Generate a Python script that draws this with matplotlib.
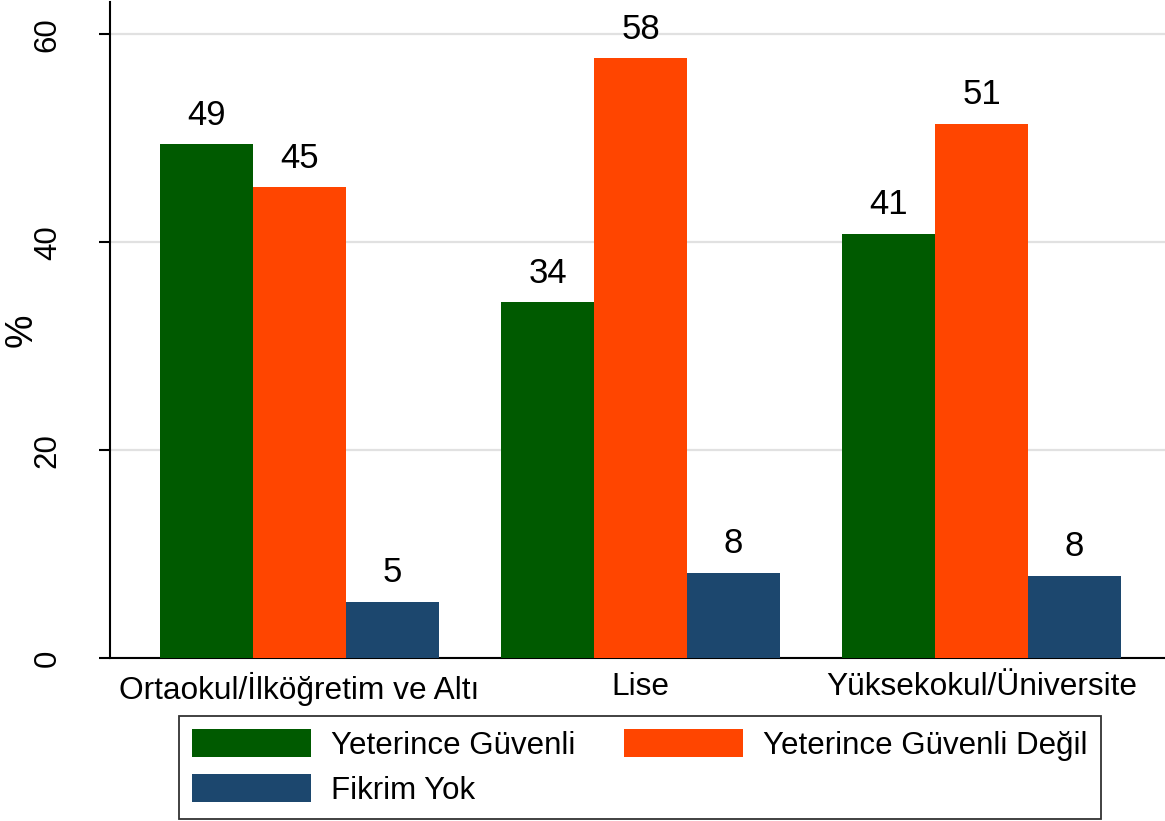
import numpy as np
import matplotlib
matplotlib.use("Agg")
import matplotlib.pyplot as plt

plt.rcParams['font.family'] = ['Liberation Sans', 'DejaVu Sans']

# eğitim düzeyi kategorileri
categories = ["Ortaokul/İlköğretim ve Altı", "Lise", "Yüksekokul/Üniversite"]
series_names = ["Yeterince Güvenli", "Yeterince Güvenli Değil", "Fikrim Yok"]
guvenli = [49.4, 34.2, 40.8]
guvenli_degil = [45.3, 57.7, 51.4]
fikrim_yok = [5.4, 8.2, 7.9]
yticks = [0, 20, 40, 60]

colors = ["#005A00", "#FF4500", "#1C476E"]

fig = plt.figure(figsize=(11.65, 8.21), dpi=100)
ax = fig.add_axes([110 / 1165, 163 / 821, 1 - 110 / 1165, 656 / 821])

x = np.arange(len(categories))
width = 93 / 341
handles = []
for i, (vals, name, col) in enumerate(zip([guvenli, guvenli_degil, fikrim_yok], series_names, colors)):
    bars = ax.bar(x + (i - 1) * width, vals, width, color=col, label=name, zorder=3)
    handles.append(bars)
    for b, v in zip(bars, vals):
        ax.annotate(f"{v:.0f}", (b.get_x() + b.get_width() / 2, v), xytext=(0, 9),
                    textcoords="offset points", ha="center", va="bottom", fontsize=25)

ax.set_xlim(-0.5557, 2.538)
ax.set_ylim(0, 63.1)
ax.set_yticks(yticks)
ax.set_yticklabels([str(t) for t in yticks], rotation=90, va="center", fontsize=22.5)
ax.set_xticks(x)
ax.set_xticklabels(categories, fontsize=22.8)
ax.tick_params(axis="x", length=0, pad=10)
ax.tick_params(axis="y", length=8, width=1.5, pad=26)
ax.set_ylabel("%", fontsize=27)
ax.yaxis.set_label_coords(-0.0664, 0.5)
ax.yaxis.grid(True, color="#E1E1E1", linewidth=1.6, zorder=0)
ax.spines["top"].set_visible(False)
ax.spines["right"].set_visible(False)
ax.spines["left"].set_linewidth(1.5)
ax.spines["bottom"].set_linewidth(1.5)

# legend satır satır: sütun öncelikli doldurma için sırayı değiştir
order = [0, 2, 1]
leg = fig.legend([handles[k] for k in order], [series_names[k] for k in order],
                 loc="lower center", bbox_to_anchor=(640 / 1165, 2 / 821), bbox_transform=fig.transFigure,
                 ncol=2, fontsize=22.5, frameon=True, fancybox=False, edgecolor="black",
                 handlelength=3.8, handleheight=1.0, handletextpad=0.65, columnspacing=1.55,
                 labelspacing=0.42, borderpad=0.42, borderaxespad=0)
leg.get_frame().set_linewidth(1.3)

fig.savefig("out.png", dpi=100, facecolor="white")
